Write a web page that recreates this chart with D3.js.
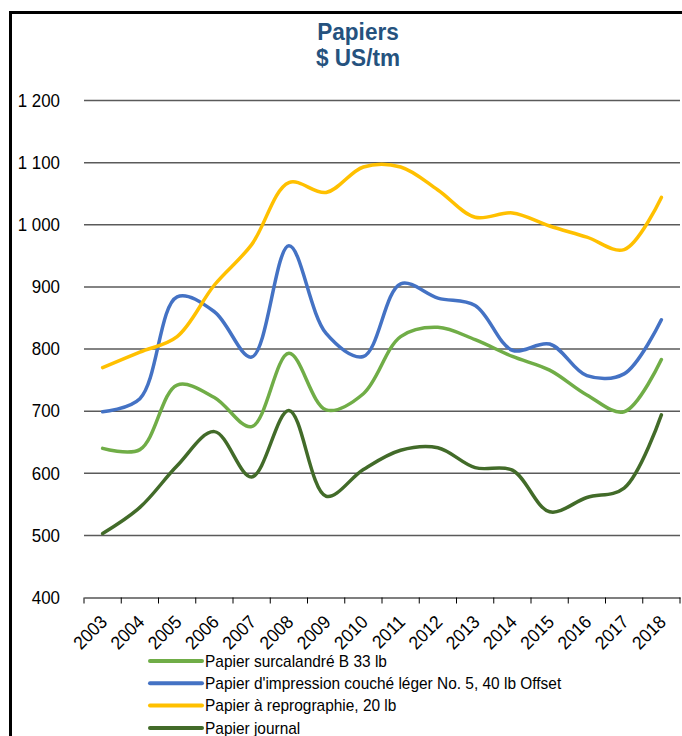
<!DOCTYPE html>
<html>
<head>
<meta charset="utf-8">
<script src="https://cdn.jsdelivr.net/npm/d3@7"></script>
<style>
  html, body { margin: 0; padding: 0; background: #fff; }
  svg { display: block; }
  text { font-family: "Liberation Sans", Arial, "DejaVu Sans", sans-serif; }
</style>
</head>
<body>
<svg id="chart" width="682" height="736"></svg>
<script>
const years = ["2003","2004","2005","2006","2007","2008","2009","2010","2011","2012","2013","2014","2015","2016","2017","2018"];
const surcalandre = [640, 638, 742, 722, 675, 793, 702, 728, 820, 835, 815, 788, 766, 726, 699, 783];
const couche = [699, 720, 884, 860, 787, 966, 825, 788, 905, 882, 870, 798, 808, 757, 760, 847];
const reprographie = [770, 795, 820, 903, 968, 1068, 1052, 1093, 1093, 1056, 1012, 1019, 998, 980, 960, 1044];
const journal = [503, 545, 612, 667, 594, 701, 563, 606, 637, 641, 609, 605, 538, 561, 576, 694];
const seriesNames = ["Papier surcalandré B 33 lb", "Papier d'impression couché léger No. 5, 40 lb Offset", "Papier à reprographie, 20 lb", "Papier journal"];
const yTicks = [400, 500, 600, 700, 800, 900, 1000, 1100, 1200];
const titleLines = ["Papiers", "$ US/tm"];

const seriesValues = [surcalandre, couche, reprographie, journal];
const colors = ["#70ad47", "#4472c4", "#ffc000", "#426b29"];
const SX = 0.94; // horizontal text compression seen in the reference

const svg = d3.select("#chart");

// frame
svg.append("rect").attr("x", 10.5).attr("y", 12.5).attr("width", 700).attr("height", 760)
  .attr("fill", "none").attr("stroke", "#000").attr("stroke-width", 3);

// title
svg.append("g").selectAll("text").data(titleLines).join("text")
  .attr("transform", (d, i) => `translate(358,${40 + i * 26}) scale(${SX},1)`)
  .attr("text-anchor", "middle")
  .attr("fill", "#25527e").attr("font-weight", "bold").attr("font-size", 24)
  .text(d => d);

const x = d3.scaleBand().domain(years).range([84, 680]).padding(0);
const y = d3.scaleLinear().domain([400, 1200]).range([597.5, 100.5]);

const loc = d3.formatLocale({decimal: ",", thousands: "\u00a0", grouping: [3], currency: ["", "$"]});
const fmt = loc.format(",");

// gridlines
svg.append("g").selectAll("line").data(yTicks.slice(1)).join("line")
  .attr("x1", x.range()[0]).attr("x2", x.range()[1])
  .attr("y1", d => y(d)).attr("y2", d => y(d))
  .attr("stroke", "#5a5a5a").attr("stroke-width", 1.5);

// y labels
svg.append("g").selectAll("text").data(yTicks).join("text")
  .attr("transform", d => `translate(60,${y(d)}) scale(${SX},1)`)
  .attr("dy", "0.35em")
  .attr("text-anchor", "end").attr("font-size", 18).attr("fill", "#000")
  .text(d => fmt(d));

// x axis
const xAxis = svg.append("g").attr("transform", `translate(0,${y(400)})`)
  .call(d3.axisBottom(x).tickSize(0).tickPadding(0));
xAxis.select(".domain").attr("stroke", "#000").attr("stroke-width", 1.2);
xAxis.selectAll(".tick text")
  .attr("font-size", 18.5).attr("fill", "#000")
  .attr("text-anchor", "end")
  .attr("y", 0).attr("dy", "0.35em")
  .attr("transform", `translate(1,21) rotate(-45) scale(${SX},1)`);
// boundary ticks
const bounds = years.map(d => x(d)).concat([x.range()[1]]);
svg.append("g").selectAll("line").data(bounds).join("line")
  .attr("x1", d => d).attr("x2", d => d)
  .attr("y1", y(400)).attr("y2", y(400) + 6)
  .attr("stroke", "#000").attr("stroke-width", 1);

// lines
const line = d3.line()
  .x((d, i) => x(years[i]) + x.bandwidth() / 2)
  .y(d => y(d))
  .curve(d3.curveCatmullRom.alpha(0.5));

svg.append("g").selectAll("path").data(seriesValues).join("path")
  .attr("d", d => line(d))
  .attr("fill", "none")
  .attr("stroke", (d, i) => colors[i])
  .attr("stroke-width", 3.5)
  .attr("stroke-linecap", "round")
  .attr("stroke-linejoin", "round");

// legend
const lg = svg.append("g").selectAll("g").data(seriesNames).join("g")
  .attr("transform", (d, i) => `translate(0,${661 + i * 22.3})`);
lg.append("line").attr("x1", 150).attr("x2", 202).attr("y1", 0).attr("y2", 0)
  .attr("stroke", (d, i) => colors[i]).attr("stroke-width", 4).attr("stroke-linecap", "round");
lg.append("text")
  .attr("transform", `translate(205,0) scale(0.965,1)`)
  .attr("dy", "0.35em")
  .attr("font-size", 16).attr("fill", "#000").text(d => d);
</script>
</body>
</html>
